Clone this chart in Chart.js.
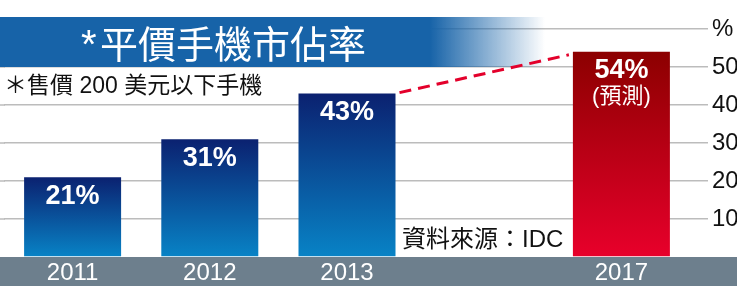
<!DOCTYPE html>
<html>
<head>
<meta charset="utf-8">
<script src="https://cdn.jsdelivr.net/npm/chart.js@4/dist/chart.umd.min.js"></script>
<style>
  html, body { margin: 0; padding: 0; background: #fff; }
</style>
</head>
<body>
<canvas id="shareChart" width="737" height="289"></canvas>
<script>
// ----------- Data ------------
const years = ["2011", "2012", "2013", "", "2017"];
const share = [21, 31, 43, null, 54];
const shareLabels = ["21%", "31%", "43%", "", "54%"];
const notes = ["", "", "", "", "(預測)"];
const yTickLabels = { 0: "", 10: "10", 20: "20", 30: "30", 40: "40", 50: "50", 60: "%" };

const titleMark = "*";
const titleText = "平價手機市佔率";
const subtitle = "＊售價 200 美元以下手機";
const source = "資料來源：IDC";

const FONT = "'Liberation Sans', 'Noto Sans CJK TC', sans-serif";

// ----------- Bar gradients ------------
function barGradient(c, top, bottom) {
  const chart = c.chart;
  const area = chart.chartArea;
  const v = c.raw;
  if (!area || v == null) return top;
  const y0 = chart.scales.y.getPixelForValue(v);
  const g = chart.ctx.createLinearGradient(0, y0, 0, area.bottom);
  g.addColorStop(0, top);
  g.addColorStop(1, bottom);
  return g;
}

// ----------- Plugins ------------
const background = {
  id: "background",
  beforeDraw(chart) {
    const ctx = chart.ctx;
    const area = chart.chartArea;
    ctx.save();
    ctx.fillStyle = "#6d7f8d";
    ctx.fillRect(0, area.bottom, chart.width, 29);
    // grid stubs left of the plot area
    ctx.strokeStyle = "#bcbcbc";
    ctx.lineWidth = 1.5;
    chart.scales.y.ticks.forEach((t) => {
      if (t.value === 0) return;
      const y = chart.scales.y.getPixelForValue(t.value);
      ctx.beginPath();
      ctx.moveTo(0, y);
      ctx.lineTo(area.left + 1, y);
      ctx.stroke();
    });
    ctx.restore();
  },
};

const headings = {
  id: "headings",
  beforeDatasetsDraw(chart) {
    const ctx = chart.ctx;
    ctx.save();
    // banner with fade
    const g = ctx.createLinearGradient(0, 0, 545, 0);
    g.addColorStop(0, "#1763a8");
    g.addColorStop(430 / 545, "#1763a8");
    g.addColorStop(1, "rgba(23,99,168,0)");
    ctx.fillStyle = g;
    ctx.fillRect(0, 17, 545, 50);

    ctx.fillStyle = "#fff";
    ctx.textBaseline = "alphabetic";
    ctx.textAlign = "left";
    ctx.font = `40px ${FONT}`;
    ctx.fillText(titleMark, 81, 58);
    ctx.font = `38px ${FONT}`;
    ctx.fillText(titleText, 100, 58);

    ctx.fillStyle = "#111";
    ctx.textBaseline = "middle";
    ctx.font = `23px ${FONT}`;
    ctx.fillText(subtitle, 4, 87);

    ctx.font = `24px ${FONT}`;
    ctx.fillText(source, 402, 240);
    ctx.restore();
  },
};

const barText = {
  id: "barText",
  afterDatasetsDraw(chart) {
    const ctx = chart.ctx;
    const bars = chart.getDatasetMeta(0).data;
    ctx.save();

    // dashed trend line from 2013 to 2017
    const a = bars[2], b = bars[4];
    ctx.strokeStyle = "#e3002b";
    ctx.lineWidth = 3;
    ctx.setLineDash([12, 7]);
    ctx.beginPath();
    ctx.moveTo(a.x + a.width / 2 + 4, a.y - 1);
    ctx.lineTo(b.x - b.width / 2 - 4, b.y + 3);
    ctx.stroke();
    ctx.setLineDash([]);

    ctx.fillStyle = "#fff";
    ctx.textAlign = "center";
    ctx.textBaseline = "middle";
    bars.forEach((bar, i) => {
      if (share[i] == null) return;
      ctx.font = `bold 27px ${FONT}`;
      ctx.fillText(shareLabels[i], bar.x, bar.y + 19);
      if (notes[i]) {
        ctx.font = `22px ${FONT}`;
        ctx.fillText(notes[i], bar.x, bar.y + 45);
      }
    });
    ctx.restore();
  },
};

// ----------- Chart ------------
new Chart(document.getElementById("shareChart"), {
  type: "bar",
  data: {
    labels: years,
    datasets: [
      {
        data: share,
        backgroundColor: (c) =>
          c.dataIndex === 4
            ? barGradient(c, "#8c0000", "#e8002b")
            : barGradient(c, "#0b2170", "#0883c6"),
        borderWidth: 0,
        barPercentage: 0.707,
        categoryPercentage: 1,
      },
    ],
  },
  options: {
    responsive: false,
    animation: false,
    layout: { padding: { top: 29, left: 4, right: 0, bottom: 0 } },
    plugins: {
      legend: { display: false },
      tooltip: { enabled: false },
    },
    scales: {
      x: {
        grid: { display: false },
        border: { display: false },
        ticks: { color: "#fff", font: { family: FONT, size: 24 }, padding: -6 },
        afterFit: (s) => { s.height = 32; },
      },
      y: {
        position: "right",
        min: 0,
        max: 60,
        border: { display: false },
        grid: {
          color: (c) => (c.tick && c.tick.value === 0 ? "rgba(0,0,0,0)" : "#bcbcbc"),
          lineWidth: 1.5,
          tickLength: 18,
        },
        ticks: {
          stepSize: 10,
          color: "#111",
          padding: 4,
          font: { family: FONT, size: 24 },
          callback: (v) => yTickLabels[v],
        },
        afterFit: (s) => { s.width = 47; },
      },
    },
  },
  plugins: [background, headings, barText],
});
</script>
</body>
</html>
